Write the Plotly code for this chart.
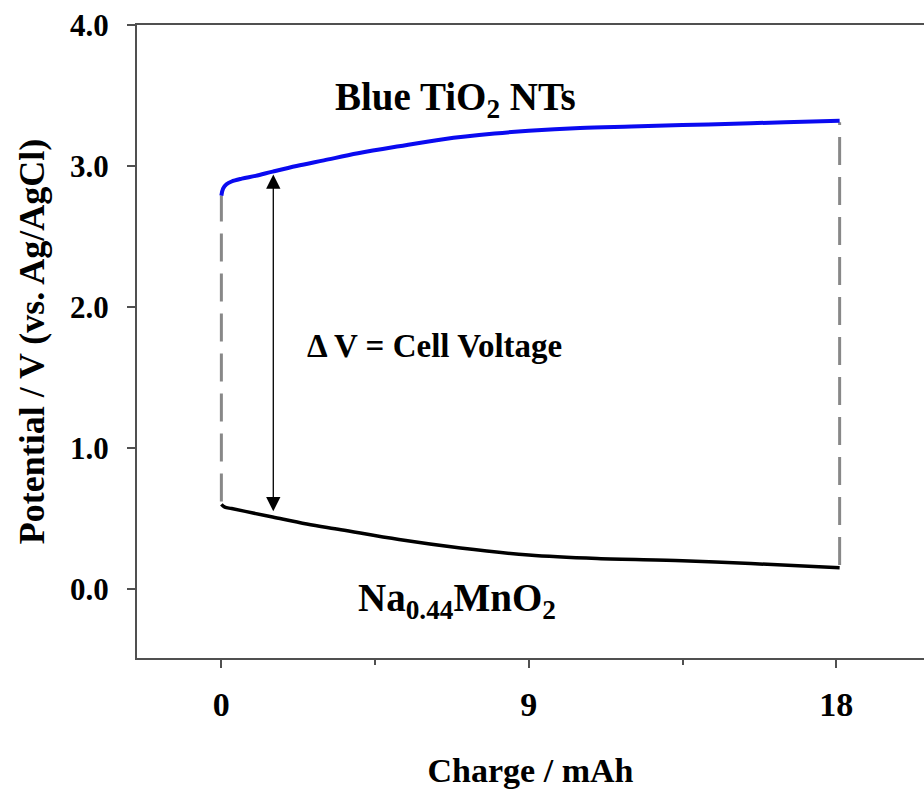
import plotly.graph_objects as go

# Data
charge_blue = [0.0, 0.05, 0.15, 0.3, 0.6, 1.0, 1.5, 2.2, 3.0, 4.0, 5.2, 6.5, 8.0, 9.0, 10.5, 12.0, 13.5, 15.0, 16.5, 18.1]
pot_blue = [2.79, 2.84, 2.87, 2.89, 2.91, 2.93, 2.96, 3.00, 3.04, 3.09, 3.14, 3.19, 3.23, 3.25, 3.27, 3.28, 3.29, 3.30, 3.31, 3.32]

charge_black = [0.0, 0.1, 0.3, 0.7, 1.5, 2.5, 3.5, 5.2, 7.0, 9.0, 11.0, 13.5, 15.5, 18.1]
pot_black = [0.60, 0.58, 0.57, 0.55, 0.51, 0.46, 0.42, 0.35, 0.29, 0.24, 0.215, 0.20, 0.18, 0.15]

dash_x0 = [0.0, 0.0]
dash_y0 = [0.62, 2.79]
dash_x18 = [18.1, 18.1]
dash_y18 = [0.17, 3.31]

x_ticks = [0, 9, 18]
x_minor = [4.5, 13.5]
y_ticks = [0, 1, 2, 3, 4]
y_labels = ["0.0", "1.0", "2.0", "3.0", "4.0"]

FONT = "Liberation Serif"
AX = "#505050"

fig = go.Figure()
fig.add_trace(go.Scatter(x=dash_x0, y=dash_y0, mode="lines",
                         line=dict(color="#888888", width=3, dash="28px,12px"), showlegend=False))
fig.add_trace(go.Scatter(x=dash_x18, y=dash_y18, mode="lines",
                         line=dict(color="#888888", width=3, dash="28px,12px"), showlegend=False))
fig.add_trace(go.Scatter(x=charge_blue, y=pot_blue, mode="lines",
                         line=dict(color="#0a0af0", width=4, shape="spline"), showlegend=False))
fig.add_trace(go.Scatter(x=charge_black, y=pot_black, mode="lines",
                         line=dict(color="black", width=3.5, shape="spline"), showlegend=False))

# double arrow for cell voltage
fig.add_annotation(x=1.52, y=2.94, ax=1.52, ay=0.54, xref="x", yref="y", axref="x", ayref="y",
                   showarrow=True, arrowhead=2, startarrowhead=2, arrowside="end+start",
                   arrowsize=2.2, startarrowsize=2.2, arrowwidth=1.3, arrowcolor="black", text="")

fig.add_annotation(x=6.85, y=3.47, text="<b>Blue TiO<sub>2</sub> NTs</b>", showarrow=False,
                   font=dict(family=FONT, size=39, color="black"))
fig.add_annotation(x=6.23, y=1.72, text="<b>Δ V = Cell Voltage</b>", showarrow=False,
                   font=dict(family=FONT, size=33, color="black"))
fig.add_annotation(x=6.9, y=-0.08, text="<b>Na<sub>0.44</sub>MnO<sub>2</sub></b>", showarrow=False,
                   font=dict(family=FONT, size=39, color="black"))

fig.update_layout(
    width=924, height=789,
    margin=dict(l=137, r=0, t=25, b=131),
    paper_bgcolor="white", plot_bgcolor="white",
    font=dict(family=FONT, color="black"),
    xaxis=dict(range=[-2.47, 20.57], tickvals=x_ticks, ticktext=[str(v) for v in x_ticks],
               ticks="outside", ticklen=8, tickwidth=2, tickcolor=AX,
               showline=True, linecolor=AX, linewidth=2, mirror=True,
               showgrid=False, zeroline=False,
               minor=dict(tickvals=x_minor, ticks="outside", ticklen=5, tickwidth=2, tickcolor=AX),
               tickfont=dict(family=FONT, size=34, color="black", weight="bold"),
               ticklabelstandoff=7,
               title=dict(text="<b>Charge / mAh</b>", font=dict(family=FONT, size=34, color="black"),
                          standoff=37)),
    yaxis=dict(range=[-0.49, 4.0], tickvals=y_ticks, ticktext=y_labels,
               ticks="outside", ticklen=8, tickwidth=2, tickcolor=AX,
               showline=True, linecolor=AX, linewidth=2,
               showgrid=False, zeroline=False,
               tickfont=dict(family=FONT, size=31, color="black", weight="bold"),
               ticklabelstandoff=12,
               title=dict(text="<b>Potential / V (vs. Ag/AgCl)</b>",
                          font=dict(family=FONT, size=36, color="black"), standoff=14)),
)

fig.write_html("out.html")
